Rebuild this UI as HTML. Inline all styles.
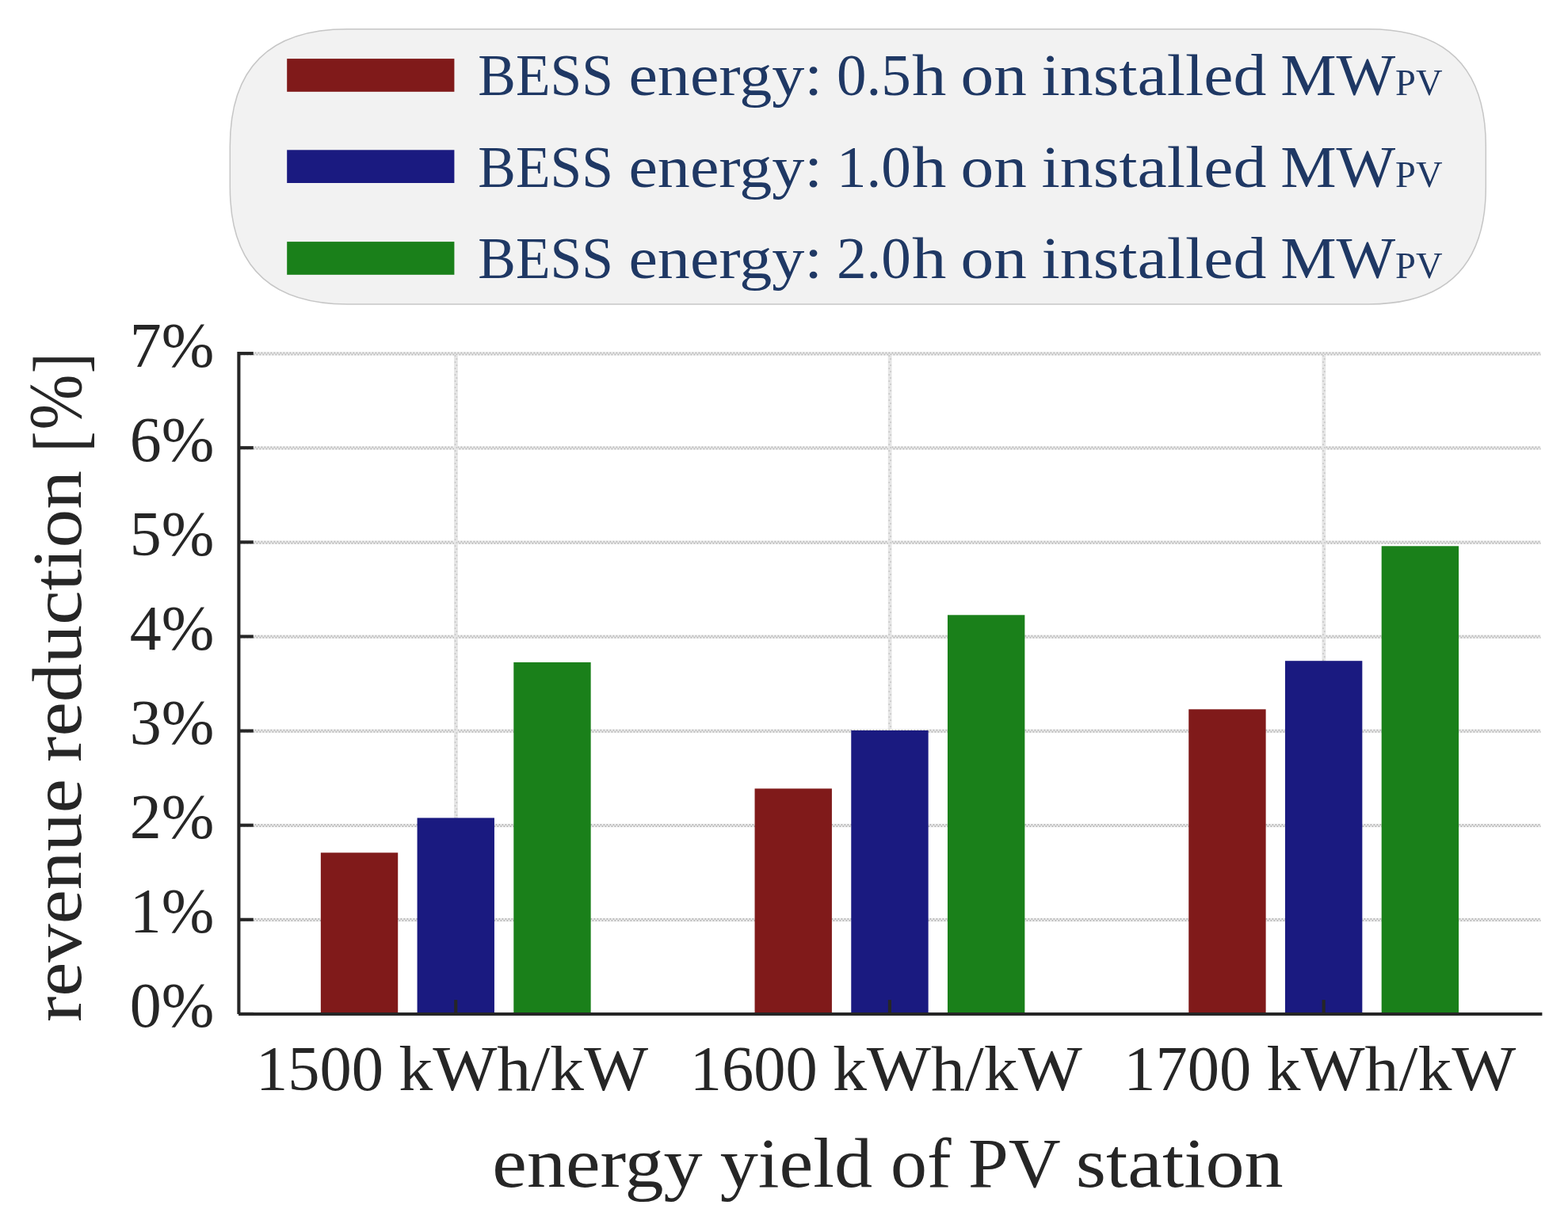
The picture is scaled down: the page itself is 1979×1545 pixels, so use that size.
<!DOCTYPE html>
<html lang="en"><head><meta charset="utf-8"><title>Revenue reduction vs. energy yield of PV station</title>
<style>html,body{margin:0;padding:0;background:#fff}body{width:1979px;height:1545px;overflow:hidden}svg{display:block}text{font-family:"Liberation Serif", "DejaVu Serif", serif;white-space:pre}</style>
</head><body>
<svg width="1979" height="1545" viewBox="0 0 1979 1545">
<rect width="1979" height="1545" fill="#ffffff"/>
<g fill="none" stroke="#f0f0f0" stroke-width="4.6">
<path d="M301.40 1161.09H1944.50"/>
<path d="M301.40 1041.97H1944.50"/>
<path d="M301.40 922.86H1944.50"/>
<path d="M301.40 803.74H1944.50"/>
<path d="M301.40 684.63H1944.50"/>
<path d="M301.40 565.51H1944.50"/>
<path d="M301.40 446.40H1944.50"/>
</g>
<g fill="none" stroke="#bdbdbd" stroke-width="2" stroke-dasharray="2 2">
<path d="M301.40 1160.09H1944.50"/>
<path d="M301.40 1162.09H1944.50" stroke-dashoffset="2"/>
<path d="M301.40 1040.97H1944.50"/>
<path d="M301.40 1042.97H1944.50" stroke-dashoffset="2"/>
<path d="M301.40 921.86H1944.50"/>
<path d="M301.40 923.86H1944.50" stroke-dashoffset="2"/>
<path d="M301.40 802.74H1944.50"/>
<path d="M301.40 804.74H1944.50" stroke-dashoffset="2"/>
<path d="M301.40 683.63H1944.50"/>
<path d="M301.40 685.63H1944.50" stroke-dashoffset="2"/>
<path d="M301.40 564.51H1944.50"/>
<path d="M301.40 566.51H1944.50" stroke-dashoffset="2"/>
<path d="M301.40 445.40H1944.50"/>
<path d="M301.40 447.40H1944.50" stroke-dashoffset="2"/>
</g>
<g fill="none" stroke="#e6e6e6" stroke-width="4.8">
<path d="M575.45 448.30V1279.90"/>
<path d="M1123.15 448.30V1279.90"/>
<path d="M1670.85 448.30V1279.90"/>
</g>
<g fill="none" stroke="#c8c8c8" stroke-width="1.8" stroke-dasharray="1.6 6.4">
<path d="M574.55 448.30V1279.90"/>
<path d="M576.35 448.30V1279.90" stroke-dashoffset="4"/>
<path d="M1122.25 448.30V1279.90"/>
<path d="M1124.05 448.30V1279.90" stroke-dashoffset="4"/>
<path d="M1669.95 448.30V1279.90"/>
<path d="M1671.75 448.30V1279.90" stroke-dashoffset="4"/>
</g>
<rect x="404.85" y="1076.30" width="97.37" height="203.60" fill="#801a1a"/>
<rect x="526.57" y="1032.40" width="97.37" height="247.50" fill="#1a1a80"/>
<rect x="648.28" y="836.00" width="97.37" height="443.90" fill="#1a801a"/>
<rect x="952.55" y="995.40" width="97.37" height="284.50" fill="#801a1a"/>
<rect x="1074.27" y="922.00" width="97.37" height="357.90" fill="#1a1a80"/>
<rect x="1195.98" y="776.30" width="97.37" height="503.60" fill="#1a801a"/>
<rect x="1500.25" y="895.30" width="97.37" height="384.60" fill="#801a1a"/>
<rect x="1621.97" y="834.20" width="97.37" height="445.70" fill="#1a1a80"/>
<rect x="1743.68" y="689.30" width="97.37" height="590.60" fill="#1a801a"/>
<g stroke="#262626" stroke-width="4.1" fill="none">
<path d="M301.40 444.05V1279.90"/>
<path d="M301.20 1280.00H1946.40"/>
<path d="M301.40 1279.90h18.4"/>
<path d="M301.40 1160.79h18.4"/>
<path d="M301.40 1041.67h18.4"/>
<path d="M301.40 922.56h18.4"/>
<path d="M301.40 803.44h18.4"/>
<path d="M301.40 684.33h18.4"/>
<path d="M301.40 565.21h18.4"/>
<path d="M301.40 446.10h18.4"/>
<path d="M575.25 1279.90v-17.8"/>
<path d="M1122.95 1279.90v-17.8"/>
<path d="M1670.65 1279.90v-17.8"/>
</g>
<path d="M438.30 36.70 H1727.30 Q1875.30 36.70 1875.30 184.70 V235.90 Q1875.30 383.90 1727.30 383.90 H438.30 Q290.30 383.90 290.30 235.90 V184.70 Q290.30 36.70 438.30 36.70Z" fill="#f2f2f2" stroke="#c6c6c6" stroke-width="1.5"/>
<rect x="362.20" y="74.10" width="211.20" height="41.70" fill="#801a1a"/>
<rect x="362.20" y="189.30" width="211.20" height="41.70" fill="#1a1a80"/>
<rect x="362.20" y="305.10" width="211.20" height="41.70" fill="#1a801a"/>
<g font-size="81.00" fill="#262626">
<text x="163.76" y="462.60" textLength="106.58" lengthAdjust="spacingAndGlyphs">7%</text>
<text x="163.76" y="581.71" textLength="106.58" lengthAdjust="spacingAndGlyphs">6%</text>
<text x="163.76" y="700.83" textLength="106.58" lengthAdjust="spacingAndGlyphs">5%</text>
<text x="163.76" y="819.94" textLength="106.58" lengthAdjust="spacingAndGlyphs">4%</text>
<text x="163.76" y="939.06" textLength="106.58" lengthAdjust="spacingAndGlyphs">3%</text>
<text x="163.76" y="1058.17" textLength="106.58" lengthAdjust="spacingAndGlyphs">2%</text>
<text x="163.76" y="1177.29" textLength="106.58" lengthAdjust="spacingAndGlyphs">1%</text>
<text x="163.76" y="1296.40" textLength="106.58" lengthAdjust="spacingAndGlyphs">0%</text>
<text y="1376.10"><tspan x="322.94" textLength="161.04" lengthAdjust="spacingAndGlyphs">1500</tspan> <tspan x="503.24" textLength="314.78" lengthAdjust="spacingAndGlyphs">kWh/kW</tspan></text>
<text y="1376.10"><tspan x="870.64" textLength="161.04" lengthAdjust="spacingAndGlyphs">1600</tspan> <tspan x="1050.94" textLength="314.78" lengthAdjust="spacingAndGlyphs">kWh/kW</tspan></text>
<text y="1376.10"><tspan x="1418.34" textLength="161.04" lengthAdjust="spacingAndGlyphs">1700</tspan> <tspan x="1598.64" textLength="314.78" lengthAdjust="spacingAndGlyphs">kWh/kW</tspan></text>
</g>
<g font-size="88.70" fill="#262626">
<text y="1497.80"><tspan x="621.38" textLength="265.30" lengthAdjust="spacingAndGlyphs">energy</tspan> <tspan x="908.72" textLength="192.34" lengthAdjust="spacingAndGlyphs">yield</tspan> <tspan x="1123.99" textLength="76.49" lengthAdjust="spacingAndGlyphs">of</tspan> <tspan x="1221.97" textLength="115.02" lengthAdjust="spacingAndGlyphs">PV</tspan> <tspan x="1357.87" textLength="261.79" lengthAdjust="spacingAndGlyphs">station</tspan></text>
<text transform="translate(101.80 1300.00) rotate(-90)" y="0"><tspan x="9.91" textLength="306.89" lengthAdjust="spacingAndGlyphs">revenue</tspan> <tspan x="338.00" textLength="368.01" lengthAdjust="spacingAndGlyphs">reduction</tspan> <tspan x="729.42" y="5.65" font-size="93.49" textLength="26.07" lengthAdjust="spacingAndGlyphs">[</tspan><tspan x="757.58" y="0.68" font-size="95.88" textLength="70.00" lengthAdjust="spacingAndGlyphs">%</tspan><tspan x="828.71" y="5.65" font-size="93.49" textLength="25.74" lengthAdjust="spacingAndGlyphs">]</tspan></text>
</g>
<g font-size="75.00" fill="#1f3864">
<text y="119.80"><tspan x="603.30" textLength="170.67" lengthAdjust="spacingAndGlyphs">BESS</tspan> <tspan x="793.42" textLength="244.76" lengthAdjust="spacingAndGlyphs">energy:</tspan> <tspan x="1055.90" textLength="93.75" lengthAdjust="spacingAndGlyphs">0.5</tspan><tspan x="1150.94" textLength="43.44" lengthAdjust="spacingAndGlyphs">h</tspan> <tspan x="1212.47" textLength="83.35" lengthAdjust="spacingAndGlyphs">on</tspan> <tspan x="1314.48" textLength="283.87" lengthAdjust="spacingAndGlyphs">installed</tspan> <tspan x="1616.29" textLength="145.02" lengthAdjust="spacingAndGlyphs">MW</tspan><tspan x="1761.11" textLength="59.38" lengthAdjust="spacingAndGlyphs" font-size="47.00">PV</tspan></text>
<text y="235.70"><tspan x="603.30" textLength="170.67" lengthAdjust="spacingAndGlyphs">BESS</tspan> <tspan x="793.42" textLength="244.76" lengthAdjust="spacingAndGlyphs">energy:</tspan> <tspan x="1055.90" textLength="93.75" lengthAdjust="spacingAndGlyphs">1.0</tspan><tspan x="1150.94" textLength="43.44" lengthAdjust="spacingAndGlyphs">h</tspan> <tspan x="1212.47" textLength="83.35" lengthAdjust="spacingAndGlyphs">on</tspan> <tspan x="1314.48" textLength="283.87" lengthAdjust="spacingAndGlyphs">installed</tspan> <tspan x="1616.29" textLength="145.02" lengthAdjust="spacingAndGlyphs">MW</tspan><tspan x="1761.11" textLength="59.38" lengthAdjust="spacingAndGlyphs" font-size="47.00">PV</tspan></text>
<text y="350.80"><tspan x="603.30" textLength="170.67" lengthAdjust="spacingAndGlyphs">BESS</tspan> <tspan x="793.42" textLength="244.76" lengthAdjust="spacingAndGlyphs">energy:</tspan> <tspan x="1055.90" textLength="93.75" lengthAdjust="spacingAndGlyphs">2.0</tspan><tspan x="1150.94" textLength="43.44" lengthAdjust="spacingAndGlyphs">h</tspan> <tspan x="1212.47" textLength="83.35" lengthAdjust="spacingAndGlyphs">on</tspan> <tspan x="1314.48" textLength="283.87" lengthAdjust="spacingAndGlyphs">installed</tspan> <tspan x="1616.29" textLength="145.02" lengthAdjust="spacingAndGlyphs">MW</tspan><tspan x="1761.11" textLength="59.38" lengthAdjust="spacingAndGlyphs" font-size="47.00">PV</tspan></text>
</g>
</svg></body></html>
